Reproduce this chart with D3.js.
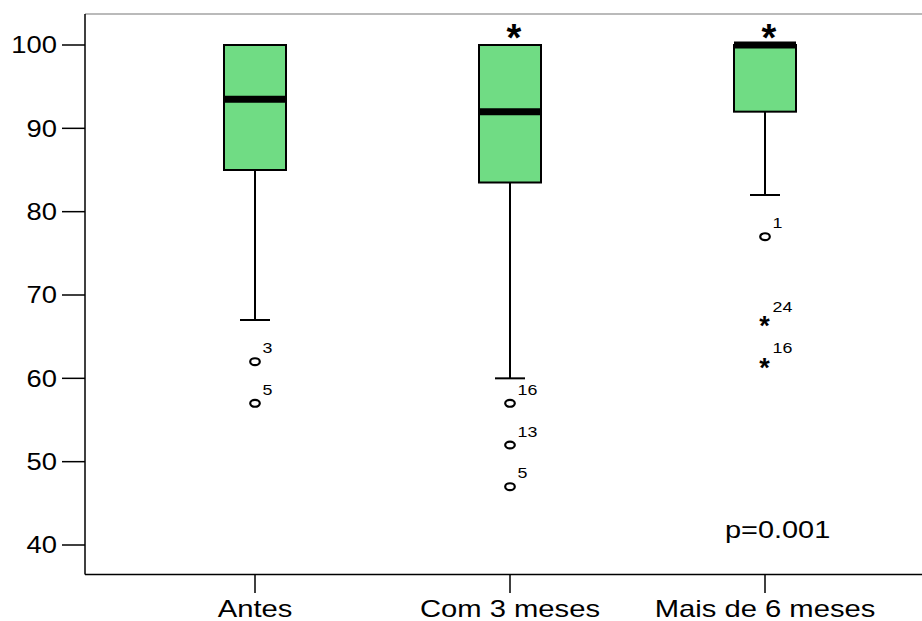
<!DOCTYPE html>
<html>
<head>
<meta charset="utf-8">
<script src="https://cdn.jsdelivr.net/npm/d3@7"></script>
<style>
  html, body { margin: 0; padding: 0; background: #fff; }
  svg { display: block; font-family: "Liberation Sans", Arial, sans-serif; }
</style>
</head>
<body>
<svg id="chart" width="922" height="621"></svg>
<script>
// Box plot: score by time since treatment
const categories = ["Antes", "Com 3 meses", "Mais de 6 meses"];
const q1Values = [85, 83.5, 92];
const medianValues = [93.5, 92, 100];
const q3Values = [100, 100, 100];
const whiskerLow = [67, 60, 82];
const whiskerHigh = [100, 100, 100];

// Outliers (o) and extremes (*) with case labels
const outlierGroup = [0, 0, 1, 1, 1, 2, 2, 2];
const outlierValue = [62, 57, 57, 52, 47, 77, 67, 62];
const outlierCase = ["3", "5", "16", "13", "5", "1", "24", "16"];
const outlierKind = ["o", "o", "o", "o", "o", "o", "*", "*"];

// Significance markers above each group
const sigMarkers = ["", "*", "*"];
const yTicks = [40, 50, 60, 70, 80, 90, 100];
const pLabel = "p=0.001";

const frame = { left: 85, top: 14, bottom: 574.5, right: 922 };
const stretch = 1.19;   // horizontal stretch of text glyphs

const svg = d3.select("#chart");

const y = d3.scaleLinear().domain([40, 100]).range([545, 45]);
const x = d3.scalePoint().domain(categories).range([255, 765]);
const boxWidth = 62;
const capWidth = 30;
const green = "#70dc84";

// frame
svg.append("line")
  .attr("x1", frame.left).attr("x2", frame.right)
  .attr("y1", frame.top).attr("y2", frame.top)
  .attr("stroke", "#777").attr("stroke-width", 1.2);
svg.append("line")
  .attr("x1", frame.left).attr("x2", frame.right)
  .attr("y1", frame.bottom).attr("y2", frame.bottom)
  .attr("stroke", "#000").attr("stroke-width", 1.5);
svg.append("line")
  .attr("x1", frame.left).attr("x2", frame.left)
  .attr("y1", frame.top).attr("y2", frame.bottom)
  .attr("stroke", "#000").attr("stroke-width", 1.5);

// y axis ticks and labels
const yAxis = svg.append("g");
yTicks.forEach(t => {
  yAxis.append("line")
    .attr("x1", 62).attr("x2", frame.left)
    .attr("y1", y(t)).attr("y2", y(t))
    .attr("stroke", "#000").attr("stroke-width", 1.5);
  yAxis.append("text")
    .attr("transform", `translate(57,${y(t) + 8.3}) scale(${stretch},1)`)
    .attr("text-anchor", "end")
    .attr("font-size", 23)
    .attr("fill", "#000")
    .text(t);
});

// x axis ticks and labels
const xAxis = svg.append("g");
categories.forEach(c => {
  xAxis.append("line")
    .attr("x1", x(c)).attr("x2", x(c))
    .attr("y1", frame.bottom).attr("y2", 593)
    .attr("stroke", "#000").attr("stroke-width", 1.5);
  xAxis.append("text")
    .attr("transform", `translate(${x(c)},616.5) scale(1.27,1)`)
    .attr("text-anchor", "middle")
    .attr("font-size", 23)
    .attr("fill", "#000")
    .text(c);
});

// boxes
const boxes = svg.append("g");
categories.forEach((c, i) => {
  const cx = x(c);
  // lower whisker
  boxes.append("line")
    .attr("x1", cx).attr("x2", cx)
    .attr("y1", y(q1Values[i])).attr("y2", y(whiskerLow[i]))
    .attr("stroke", "#000").attr("stroke-width", 2);
  boxes.append("line")
    .attr("x1", cx - capWidth / 2).attr("x2", cx + capWidth / 2)
    .attr("y1", y(whiskerLow[i])).attr("y2", y(whiskerLow[i]))
    .attr("stroke", "#000").attr("stroke-width", 2);
  // upper whisker
  boxes.append("line")
    .attr("x1", cx).attr("x2", cx)
    .attr("y1", y(q3Values[i])).attr("y2", y(whiskerHigh[i]))
    .attr("stroke", "#000").attr("stroke-width", 2);
  // box
  boxes.append("rect")
    .attr("x", cx - boxWidth / 2)
    .attr("y", y(q3Values[i]))
    .attr("width", boxWidth)
    .attr("height", y(q1Values[i]) - y(q3Values[i]))
    .attr("fill", green)
    .attr("stroke", "#000").attr("stroke-width", 2);
  // median
  boxes.append("line")
    .attr("x1", cx - boxWidth / 2).attr("x2", cx + boxWidth / 2)
    .attr("y1", y(medianValues[i])).attr("y2", y(medianValues[i]))
    .attr("stroke", "#000").attr("stroke-width", 7);
  // significance marker
  if (sigMarkers[i]) {
    boxes.append("text")
      .attr("transform", `translate(${cx + 4},${y(whiskerHigh[i]) + 6})`)
      .attr("text-anchor", "middle")
      .attr("font-size", 38)
      .attr("font-weight", "bold")
      .attr("fill", "#000")
      .text(sigMarkers[i]);
  }
});

// outliers
const outs = svg.append("g");
outlierValue.forEach((v, k) => {
  const cx = x(categories[outlierGroup[k]]);
  const cy = y(v);
  if (outlierKind[k] === "o") {
    outs.append("ellipse")
      .attr("cx", cx).attr("cy", cy)
      .attr("rx", 4.8).attr("ry", 3.4)
      .attr("fill", "#fff")
      .attr("stroke", "#000").attr("stroke-width", 2.2);
  } else {
    outs.append("text")
      .attr("transform", `translate(${cx - 0.5},${cy + 15})`)
      .attr("text-anchor", "middle")
      .attr("font-size", 27)
      .attr("font-weight", "bold")
      .attr("fill", "#000")
      .text("*");
  }
  outs.append("text")
    .attr("transform", `translate(${cx + 7.5},${cy - 8.5}) scale(${stretch},1)`)
    .attr("font-size", 15)
    .attr("fill", "#000")
    .text(outlierCase[k]);
});

// test result
svg.append("text")
  .attr("transform", `translate(725,538) scale(${stretch},1)`)
  .attr("font-size", 24.3)
  .attr("fill", "#000")
  .text(pLabel);
</script>
</body>
</html>
